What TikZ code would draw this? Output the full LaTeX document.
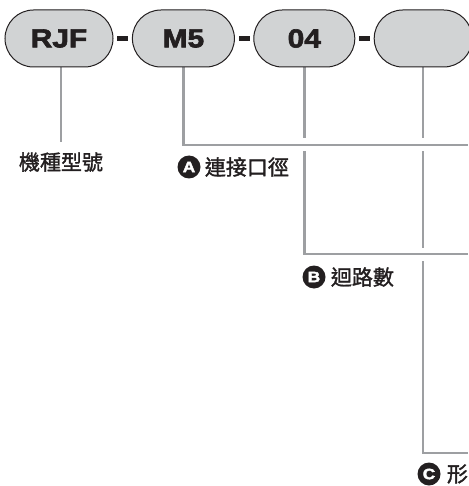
\documentclass[tikz,border=0pt]{standalone}
\usepackage{fontspec}
\setmainfont{Liberation Sans}
\newfontfamily\gruesa{Liberation Sans}[UprightFont=* Bold, FakeStretch=1.15, FakeBold=2.5]
\newfontfamily\cjk{Noto Sans CJK TC}[FakeBold=1.6]
\usetikzlibrary{positioning,calc,backgrounds}
\definecolor{CampoGris}{HTML}{D1D3D4}
\definecolor{BordeOscuro}{HTML}{231F20}
\definecolor{LineaGris}{HTML}{9D9FA2}
\tikzset{
  campo/.style = {draw=BordeOscuro, rectangle, rounded corners=28.5pt, fill=CampoGris,
                  line width=1pt, minimum height=57pt, inner sep=0pt, text=BordeOscuro,
                  font=\gruesa\fontsize{26}{26}\selectfont},
  guion/.style = {fill=BordeOscuro, minimum width=11pt, minimum height=5pt, inner sep=0pt},
  linea/.style = {draw=LineaGris, line width=2.5pt, preaction={draw=white, line width=13pt}},
  etiq/.style  = {font=\cjk\fontsize{21}{21}\selectfont, text=BordeOscuro, inner sep=0pt},
  marca/.style = {circle, fill=BordeOscuro, text=white, minimum size=23pt, inner sep=0pt,
                  font=\gruesa\fontsize{15}{15}\selectfont},
}
\begin{document}
\begin{tikzpicture}[x=1pt, y=-1pt]
  \useasboundingbox (0,0) rectangle (468,486);
  \coordinate (fin0) at (61,142);
  \coordinate (fin1) at (468,145);
  \coordinate (fin2) at (468,254);
  \coordinate (fin3) at (468,453);
  \path (59,38.5) node[campo, minimum width=108pt] (rjf) {RJF};
  \node[guion, right=3.5pt of rjf] (g1) {};
  \node[campo, minimum width=102pt, right=3.5pt of g1] (m5) {M5};
  \node[guion, right=3.5pt of m5] (g2) {};
  \node[campo, minimum width=101pt, right=3.5pt of g2] (n04) {04};
  \node[guion, right=3.5pt of n04] (g3) {};
  \node[campo, minimum width=98pt, right=3.5pt of g3] (forma) {};
  % lineas detras de los campos; el halo blanco corta los cruces
  \begin{scope}[on background layer]
    \draw[linea] (forma.south) |- (fin3);
    \draw[linea] (n04.south) |- (fin2);
    \draw[linea] (m5.south) |- (fin1);
    \draw[linea] (rjf.south -| fin0) -- (fin0);
  \end{scope}
  \node[etiq] (lmod) at (61,162) {機種型號};
  \node[marca] (ma) at (189,167) {A};
  \node[etiq, right=4pt of ma] (lpuerto) {連接口徑};
  \node[marca] (mb) at (314,277) {B};
  \node[etiq, right=5pt of mb] (lcirc) {迴路數};
  \node[marca] (mc) at (429,474) {C};
  \node[etiq, right=6pt of mc] (lforma) {形};
\end{tikzpicture}
\end{document}
